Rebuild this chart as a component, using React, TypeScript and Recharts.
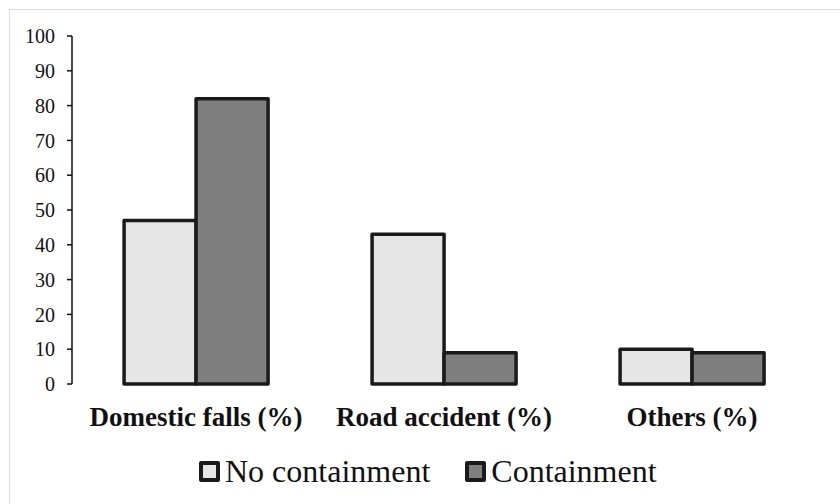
import React from 'react';
import { BarChart, Bar, XAxis, YAxis, Legend } from 'recharts';

const categories = ['Domestic falls (%)', 'Road accident (%)', 'Others (%)'];
const noContainment = [47, 43, 10];
const containment = [82, 9, 9];
const yTicks = [0, 10, 20, 30, 40, 50, 60, 70, 80, 90, 100];

const data = categories.map((name, i) => ({
    name,
    noContainment: noContainment[i],
    containment: containment[i],
}));

const FONT = 'Liberation Serif';
const LIGHT = '#e6e6e6';
const DARK = '#7f7f7f';
const EDGE = '#1a1a1a';

const LegendBox: React.FC<{ fill: string; label: string; gap: number }> = ({ fill, label, gap }) => (
    <span style={{ display: 'inline-flex', alignItems: 'center', marginRight: gap }}>
        <span
            style={{
                display: 'inline-block',
                width: 13,
                height: 13,
                background: fill,
                border: `4px solid ${EDGE}`,
                borderRadius: 2,
                marginRight: 5,
            }}
        />
        <span style={{ fontSize: 32, color: '#111', lineHeight: '32px' }}>{label}</span>
    </span>
);

const renderLegend = () => (
    <div style={{ fontFamily: FONT, display: 'flex', justifyContent: 'flex-start', paddingLeft: 199 }}>
        <LegendBox fill={LIGHT} label="No containment" gap={35} />
        <LegendBox fill={DARK} label="Containment" gap={0} />
    </div>
);

export default function App() {
    return (
        <div
            style={{
                position: 'absolute',
                left: 0,
                top: 0,
                width: 840,
                height: 504,
                background: '#fff',
                fontFamily: FONT,
            }}
        >
            <div
                style={{
                    position: 'absolute',
                    left: 9,
                    top: 9,
                    width: 840,
                    height: 504,
                    borderTop: '1px solid #d9d9d9',
                    borderLeft: '1px solid #d9d9d9',
                }}
            />
            <BarChart
                width={840}
                height={504}
                data={data}
                margin={{ top: 36, right: 24, left: 0, bottom: 38 }}
                barCategoryGap="21%"
                barGap={0}
                style={{ fontFamily: FONT }}
            >
                <XAxis
                    dataKey="name"
                    axisLine={false}
                    tickLine={false}
                    tickSize={0}
                    tickMargin={23}
                    height={50}
                    interval={0}
                    tick={{ fontFamily: FONT, fontSize: 27, fontWeight: 'bold', fill: '#111' }}
                />
                <YAxis
                    domain={[0, 100]}
                    ticks={yTicks}
                    width={72}
                    axisLine={{ stroke: '#111', strokeWidth: 1.5 }}
                    tickLine={{ stroke: '#111', strokeWidth: 1.5 }}
                    tickSize={5}
                    tickMargin={12}
                    tick={{ fontFamily: FONT, fontSize: 20, fill: '#111' }}
                />
                <Legend
                    content={renderLegend}
                    wrapperStyle={{ position: 'absolute', top: 455, left: 0, width: 840 }}
                />
                <Bar
                    dataKey="noContainment"
                    name="No containment"
                    fill={LIGHT}
                    stroke={EDGE}
                    strokeWidth={3.5}
                    strokeLinejoin="round"
                    isAnimationActive={false}
                />
                <Bar
                    dataKey="containment"
                    name="Containment"
                    fill={DARK}
                    stroke={EDGE}
                    strokeWidth={3.5}
                    strokeLinejoin="round"
                    isAnimationActive={false}
                />
            </BarChart>
        </div>
    );
}
